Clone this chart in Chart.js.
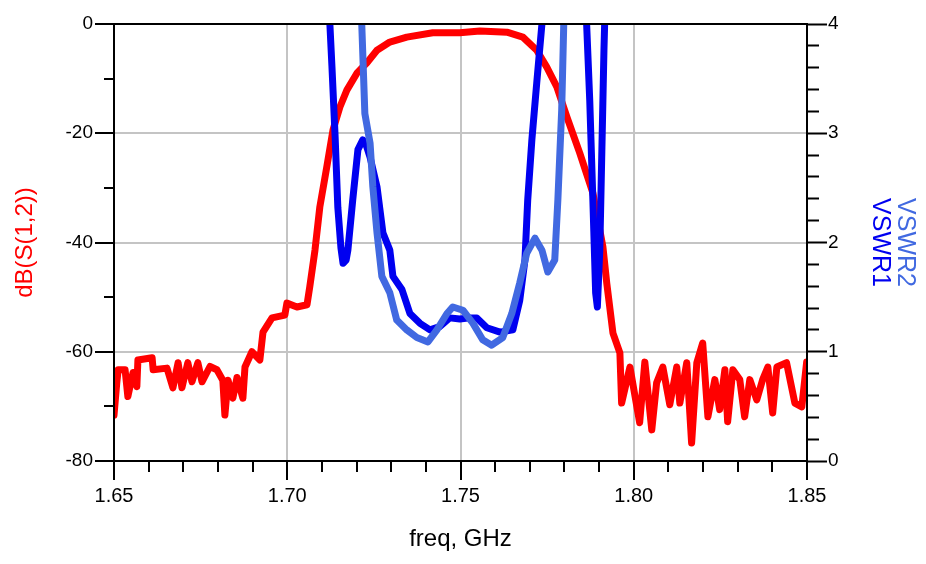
<!DOCTYPE html>
<html>
<head>
<meta charset="utf-8">
<script src="https://cdn.jsdelivr.net/npm/chart.js@4/dist/chart.umd.min.js"></script>
<style>
  body { margin: 0; background: #fff; }
</style>
</head>
<body>
<canvas id="chart" width="926" height="564"></canvas>
<script>
// S(1,2) trace, freq in GHz / level in dB
const s12Freq = [1.6500, 1.6508, 1.6512, 1.6532, 1.6540, 1.6555, 1.6566, 1.6569, 1.6610, 1.6613,
  1.6653, 1.6670, 1.6685, 1.6696, 1.6713, 1.6725, 1.6742, 1.6754, 1.6777, 1.6797,
  1.6814, 1.6820, 1.6829, 1.6843, 1.6855, 1.6872, 1.6878, 1.6898, 1.6921, 1.6930,
  1.6956, 1.6993, 1.6999, 1.7028, 1.7057, 1.7065, 1.7080, 1.7094, 1.7114, 1.7132,
  1.7152, 1.7172, 1.7201, 1.7230, 1.7259, 1.7296, 1.7345, 1.7420, 1.7498, 1.7556,
  1.7634, 1.7680, 1.7720, 1.7749, 1.7778, 1.7807, 1.7844, 1.7882, 1.7911, 1.7922,
  1.7940, 1.7960, 1.7965, 1.7989, 1.8017, 1.8032, 1.8052, 1.8066, 1.8084, 1.8104,
  1.8124, 1.8133, 1.8153, 1.8167, 1.8182, 1.8199, 1.8214, 1.8234, 1.8248, 1.8263,
  1.8271, 1.8286, 1.8306, 1.8320, 1.8335, 1.8355, 1.8372, 1.8387, 1.8401, 1.8413,
  1.8441, 1.8465, 1.8485, 1.8499];
const s12dB = [-71.6, -65.7, -63.3, -63.3, -68.2, -63.8, -66.4, -61.5, -61.1, -63.3,
  -63.0, -66.6, -62.0, -66.6, -62.0, -65.5, -62.0, -65.5, -62.7, -63.3,
  -65.2, -71.6, -65.2, -68.5, -64.7, -68.5, -62.8, -60.0, -61.5, -56.4,
  -53.8, -53.3, -51.1, -51.8, -51.4, -48.1, -41.4, -33.5, -26.2, -19.4,
  -15.2, -12.1, -9.0, -7.1, -4.8, -3.3, -2.4, -1.6, -1.6, -1.3,
  -1.5, -2.4, -4.8, -7.9, -11.5, -17.0, -23.6, -30.9, -40.8, -47.4,
  -56.6, -60.2, -69.4, -62.8, -73.0, -61.9, -74.3, -65.7, -62.8, -69.7,
  -62.8, -69.4, -62.0, -76.7, -62.0, -58.4, -71.9, -65.1, -70.6, -63.3,
  -72.8, -63.3, -65.1, -71.9, -65.1, -68.8, -65.1, -62.8, -71.2, -62.8,
  -62.0, -69.4, -70.1, -61.9];

// VSWR1 (points above 4 run off the top of the plot)
const vswr1Freq = [1.7112, 1.7123, 1.7129, 1.7138, 1.7146, 1.7155, 1.7161, 1.7170, 1.7175, 1.7189,
  1.7204, 1.7218, 1.7227, 1.7239, 1.7259, 1.7276, 1.7296, 1.7305, 1.7331, 1.7354,
  1.7383, 1.7412, 1.7440, 1.7469, 1.7498, 1.7527, 1.7547, 1.7576, 1.7614, 1.7651,
  1.7671, 1.7686, 1.7694, 1.7706, 1.7720, 1.7735, 1.7743, 1.7856, 1.7864, 1.7873,
  1.7882, 1.7890, 1.7895, 1.7902, 1.7908, 1.7914, 1.7916, 1.7925];
const vswr1 = [5.0, 4.0, 3.61, 2.98, 2.32, 1.95, 1.81, 1.84, 1.93, 2.39,
  2.85, 2.94, 2.90, 2.78, 2.51, 2.09, 1.93, 1.69, 1.57, 1.35,
  1.26, 1.20, 1.23, 1.31, 1.30, 1.31, 1.31, 1.22, 1.18, 1.20,
  1.47, 1.84, 2.39, 2.94, 3.46, 4.0, 5.0, 5.0, 4.0, 3.30,
  2.39, 1.54, 1.41, 1.93, 2.85, 3.76, 4.0, 5.0];

// VSWR2
const vswr2Freq = [1.7210, 1.7215, 1.7224, 1.7239, 1.7247, 1.7259, 1.7273, 1.7296, 1.7316, 1.7345,
  1.7374, 1.7406, 1.7432, 1.7461, 1.7478, 1.7507, 1.7536, 1.7564, 1.7590, 1.7622,
  1.7648, 1.7671, 1.7691, 1.7715, 1.7735, 1.7752, 1.7772, 1.7781, 1.7792, 1.7798,
  1.7804];
const vswr2 = [5.0, 4.0, 3.18, 2.91, 2.51, 2.09, 1.69, 1.54, 1.29, 1.20,
  1.13, 1.09, 1.20, 1.35, 1.41, 1.38, 1.26, 1.11, 1.06, 1.13,
  1.35, 1.63, 1.90, 2.04, 1.93, 1.73, 1.84, 2.39, 3.21, 4.0,
  5.0];

const FONT = "'Liberation Sans', Arial, sans-serif";
const GRID = '#c4c4c4';

function pairs(xs, ys) {
  return xs.map((x, i) => ({ x: x, y: ys[i] }));
}

function isMajorX(v) { return Math.round(v * 100) % 5 === 0; }
function isMajorDb(v) { return Math.round(v) % 20 === 0; }
function isWhole(v) { return Math.abs(v - Math.round(v)) < 1e-6; }

// frame around the plot area + two-coloured right axis title
const framePlugin = {
  id: 'frame',
  afterDraw(chart) {
    const { ctx, chartArea: a } = chart;
    ctx.save();
    ctx.strokeStyle = '#000';
    ctx.lineWidth = 2;
    ctx.strokeRect(a.left, a.top, a.right - a.left, a.bottom - a.top);

    const cy = (a.top + a.bottom) / 2;
    ctx.font = '25px ' + FONT;
    ctx.textAlign = 'center';
    ctx.textBaseline = 'middle';
    [['VSWR2', '#4169E1', 905], ['VSWR1', '#0000F0', 880]].forEach(([txt, col, x]) => {
      ctx.save();
      ctx.translate(x, cy);
      ctx.rotate(Math.PI / 2);
      ctx.fillStyle = col;
      ctx.fillText(txt, 0, 0);
      ctx.restore();
    });
    ctx.restore();
  }
};

new Chart(document.getElementById('chart'), {
  type: 'line',
  data: {
    datasets: [
      {
        label: 'VSWR2',
        data: pairs(vswr2Freq, vswr2),
        yAxisID: 'y1',
        borderColor: '#4169E1',
        borderWidth: 7,
        order: 0
      },
      {
        label: 'VSWR1',
        data: pairs(vswr1Freq, vswr1),
        yAxisID: 'y1',
        borderColor: '#0000F0',
        borderWidth: 7,
        order: 1
      },
      {
        label: 'dB(S(1,2))',
        data: pairs(s12Freq, s12dB),
        yAxisID: 'y',
        borderColor: '#FF0000',
        borderWidth: 7,
        order: 2
      }
    ]
  },
  options: {
    responsive: false,
    animation: false,
    clip: 0,
    elements: {
      point: { radius: 0, hoverRadius: 0 },
      line: { tension: 0, borderJoinStyle: 'round', borderCapStyle: 'round' }
    },
    layout: { padding: { top: 24, left: 0, right: 0, bottom: 0 } },
    plugins: {
      legend: { display: false },
      tooltip: { enabled: false }
    },
    scales: {
      x: {
        type: 'linear',
        min: 1.65,
        max: 1.85,
        afterFit(s) { s.height = 103; },
        border: { display: true, color: '#000', width: 2 },
        grid: {
          color: c => (c.tick && isMajorX(c.tick.value) && c.index > 0 && c.index < 20) ? GRID : 'rgba(0,0,0,0)',
          lineWidth: 2,
          tickColor: '#000',
          tickWidth: 2,
          tickLength: 19,
          tickBorderDash: c => (c.tick && isMajorX(c.tick.value)) ? [] : [10, 100]
        },
        ticks: {
          stepSize: 0.01,
          autoSkip: false,
          maxRotation: 0,
          padding: 4,
          color: '#000',
          font: { family: FONT, size: 20 },
          callback: v => isMajorX(v) ? v.toFixed(2) : ''
        },
        title: {
          display: true,
          text: 'freq, GHz',
          color: '#000',
          font: { family: FONT, size: 24 },
          padding: { top: 0, bottom: 10 }
        }
      },
      y: {
        position: 'left',
        min: -80,
        max: 0,
        afterFit(s) { s.width = 114; },
        border: { display: true, color: '#000', width: 2 },
        grid: {
          color: c => (c.tick && isMajorDb(c.tick.value) && c.tick.value < 0 && c.tick.value > -80) ? GRID : 'rgba(0,0,0,0)',
          lineWidth: 2,
          tickColor: '#000',
          tickWidth: 2,
          tickLength: 19,
          tickBorderDash: c => (c.tick && isMajorDb(c.tick.value)) ? [] : [0, 9, 10, 100]
        },
        ticks: {
          stepSize: 10,
          padding: 2,
          color: '#000',
          font: { family: FONT, size: 19 },
          callback: v => isMajorDb(v) ? String(v) : ''
        },
        title: {
          display: true,
          text: 'dB(S(1,2))',
          color: '#FF0000',
          font: { family: FONT, size: 24 },
          padding: { top: 11, bottom: 0 }
        }
      },
      y1: {
        position: 'right',
        min: 0,
        max: 4,
        afterFit(s) { s.width = 119; },
        border: { display: true, color: '#000', width: 2 },
        grid: {
          drawOnChartArea: false,
          tickColor: '#000',
          tickWidth: 2,
          tickLength: 20,
          tickBorderDash: c => (c.tick && isWhole(c.tick.value)) ? [] : [11, 100]
        },
        ticks: {
          stepSize: 0.2,
          autoSkip: false,
          padding: 1,
          color: '#000',
          font: { family: FONT, size: 19 },
          callback: v => isWhole(v) ? String(Math.round(v)) : ''
        }
      }
    }
  },
  plugins: [framePlugin]
});
</script>
</body>
</html>
